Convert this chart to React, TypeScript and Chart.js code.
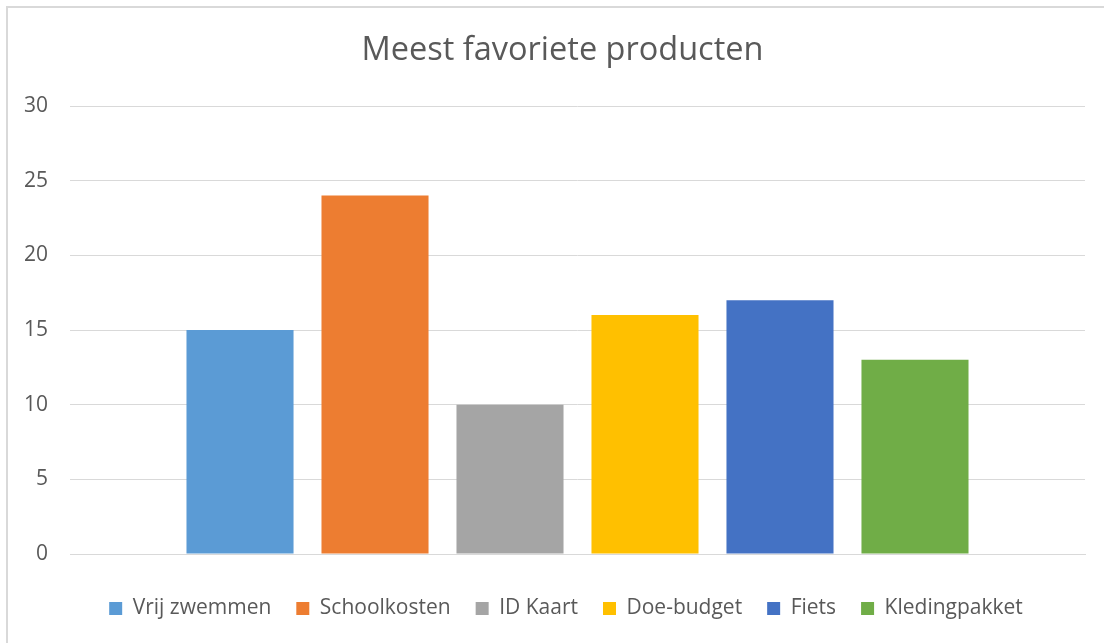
import React, { useEffect, useRef } from "react";
import { Chart, registerables } from "chart.js";

Chart.register(...registerables);

const title = "Meest favoriete producten";
const categories = [""];
const seriesNames = ["Vrij zwemmen", "Schoolkosten", "ID Kaart", "Doe-budget", "Fiets", "Kledingpakket"];
const seriesValues = [15, 24, 10, 16, 17, 13];
const seriesColors = ["#5B9BD5", "#ED7D31", "#A5A5A5", "#FFC000", "#4472C4", "#70AD47"];
const yMin = 0;
const yMax = 30;
const yStep = 5;

const FONT = "'Open Sans', 'Liberation Sans', sans-serif";
const TEXT = "#595959";
const GRID = "#D9D9D9";

const borderPlugin = {
  id: "outerBorder",
  beforeDraw(chart: any) {
    const ctx = chart.ctx;
    ctx.save();
    ctx.fillStyle = "#ffffff";
    ctx.fillRect(0, 0, chart.width, chart.height);
    ctx.strokeStyle = GRID;
    ctx.lineWidth = 2;
    ctx.strokeRect(7, 7, chart.width + 20, chart.height + 20);
    ctx.restore();
  },
};

// The original chart is cropped on the right, so its title and legend sit right of the canvas centre.
const shiftPlugin = {
  id: "shiftBlocks",
  afterLayout(chart: any) {
    if (chart.titleBlock) chart.titleBlock.left += 20;
    if (chart.legend) chart.legend.left += 27;
  },
};

export default function App() {
  const ref = useRef<HTMLCanvasElement | null>(null);
  useEffect(() => {
    if (!ref.current) return;
    const chart = new Chart(ref.current, {
      type: "bar",
      data: {
        labels: categories,
        datasets: seriesNames.map((name, i) => ({
          label: name,
          data: [seriesValues[i]],
          backgroundColor: seriesColors[i],
          borderWidth: 0,
          categoryPercentage: 0.798,
          barPercentage: 0.793,
        })),
      },
      options: {
        animation: false,
        responsive: false,
        maintainAspectRatio: false,
        devicePixelRatio: 1,
        layout: { padding: { left: 20, right: 19, top: 0, bottom: 14 } },
        plugins: {
          title: {
            display: true,
            text: title,
            color: TEXT,
            font: { family: FONT, size: 32.5, weight: "normal" },
            padding: { top: 31, bottom: 36 },
          },
          legend: {
            display: true,
            position: "bottom",
            labels: {
              color: TEXT,
              font: { family: FONT, size: 21 },
              boxWidth: 13,
              boxHeight: 13,
              padding: 25,
            },
          },
          tooltip: { enabled: false },
        },
        scales: {
          x: {
            grid: { display: false, drawTicks: false },
            border: { display: true, color: GRID, width: 1 },
            ticks: { display: false },
            afterFit(scale: any) {
              scale.height = 19;
            },
          },
          y: {
            min: yMin,
            max: yMax,
            ticks: {
              stepSize: yStep,
              color: TEXT,
              font: { family: FONT, size: 21 },
              padding: 22,
            },
            grid: { color: GRID, lineWidth: 1, drawTicks: false },
            border: { display: false },
            afterFit(scale: any) {
              scale.width = 50;
            },
          },
        },
      },
      plugins: [borderPlugin, shiftPlugin],
    });
    return () => chart.destroy();
  }, []);
  return (
    <div style={{ position: "absolute", left: 0, top: 0, width: 1104, height: 643, background: "#fff" }}>
      <canvas ref={ref} width={1104} height={643} style={{ width: 1104, height: 643, display: "block" }} />
    </div>
  );
}
